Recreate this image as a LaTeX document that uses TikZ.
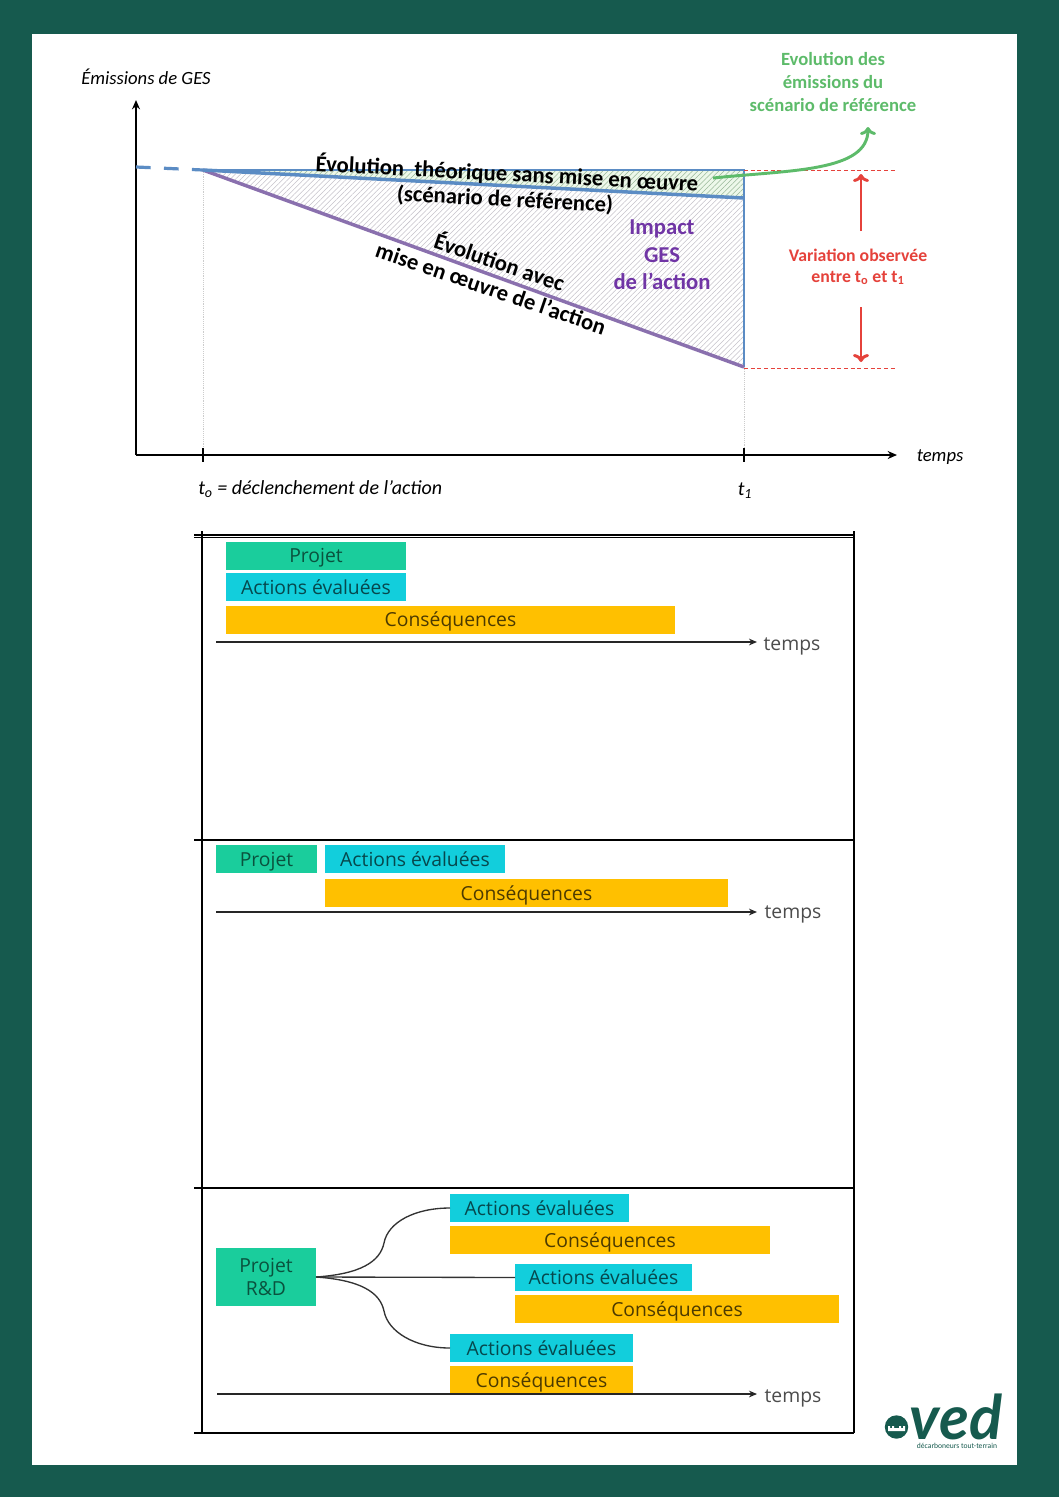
\documentclass[tikz,border=0pt]{standalone}
\usepackage{fontspec}
\setmainfont{Carlito}
\newfontfamily\boxfont{Open Sans}
\newfontfamily\logofont{Lato}
\usetikzlibrary{patterns.meta,arrows.meta}
\definecolor{framegreen}{HTML}{165A4E}
\definecolor{lineblue}{HTML}{5B8CC4}
\definecolor{linepurple}{HTML}{8A70AE}
\definecolor{textpurple}{HTML}{7035A5}
\definecolor{arrowgreen}{HTML}{5DBB6A}
\definecolor{arrowred}{HTML}{E5423B}
\definecolor{boxteal}{HTML}{1ACD9C}
\definecolor{boxcyan}{HTML}{12CEDC}
\definecolor{boxorange}{HTML}{FFC000}
\tikzset{
  databox/.style={inner sep=0pt,outer sep=0pt,minimum height=21,text height=13.5pt,text depth=3pt,font=\boxfont\fontsize{14.5}{17}\selectfont},
  projetbox/.style={databox,fill=boxteal,text=boxteal!40!black},
  actionbox/.style={databox,fill=boxcyan,text=boxcyan!35!black},
  conseqbox/.style={databox,fill=boxorange,text=boxorange!30!black},
  timeline/.style={-{Stealth[length=6pt,width=5pt]},line width=1.3pt,black!85},
  timelabel/.style={font=\boxfont\fontsize{14.5}{17}\selectfont,text=black!70},
  curvetext/.style={font=\bfseries\fontsize{17}{20}\selectfont,align=center},
  tablerule/.style={line width=1.2pt,black},
  axisline/.style={-{Stealth[length=7pt,width=6pt]},line width=1.6pt},
  openarrow/.style={-{To[length=6pt,width=12pt]},line width=2.2pt}
}
\begin{document}
\begin{tikzpicture}[x=0.75pt,y=-0.75pt]
% Frame
\fill[framegreen] (0,0) rectangle (1059,1497);
\fill[white] (32,34) rectangle (1017,1465);
\useasboundingbox (0,0) rectangle (1059,1497);

% Curve: named points
\coordinate (orig) at (136,455);
\coordinate (start) at (203,170);
\coordinate (endtop) at (744,170);
\coordinate (endref) at (744,198);
\coordinate (endact) at (744,367);
\coordinate (endactb) at (744,368);

% Hatched areas
\fill[yellow!12!green!8] (start) -- (endtop) -- (endref) -- cycle;
\fill[pattern={Lines[angle=45,distance=2.8pt,line width=0.4pt]},pattern color=green!30!black!40] (start) -- (endtop) -- (endref) -- cycle;
\fill[pattern={Lines[angle=45,distance=2.8pt,line width=0.4pt]},pattern color=linepurple!45!black!30] (start) -- (endref) -- (endact) -- cycle;

% Dotted guides
\draw[black!20,densely dotted] (start) -- (203,448);
\draw[black!20,densely dotted] (endact) -- (744,448);

% Axes
\draw[axisline] (orig) -- (136,100);
\draw[axisline] (orig) -- (897,455);
\draw[line width=1.2pt] (203,448) -- (203,462);
\draw[line width=1.2pt] (744,448) -- (744,462);

% Curves
\draw[lineblue,line width=2.4pt,dash pattern=on 11pt off 10pt] (136,167) -- (start);
\draw[lineblue,line width=0.8pt] (start) -- (endtop) -- (endact);
\draw[linepurple,line width=2.6pt] (start) -- (endact);
\draw[lineblue,line width=2.6pt] (start) -- (endref);

% Red markers
\draw[arrowred,densely dashed,line width=0.6pt] (endtop) -- (897,170);
\draw[arrowred,densely dashed,line width=0.6pt] (endactb) -- (897,368);
\draw[arrowred,openarrow] (861,231) -- (861,174);
\draw[arrowred,openarrow] (861,307) -- (861,362);

% Green arrow
\coordinate (refstart) at (713,178);
\coordinate (refend) at (868,127);
\draw[arrowgreen,openarrow] (refstart) .. controls (790,170) and (868,172) .. (refend);

% Labels
\node[font=\itshape\fontsize{14}{16}\selectfont] (ylabel) at (146,77) {Émissions de GES};
\node[font=\itshape\fontsize{14}{16}\selectfont] (xlabel) at (940,457) {temps};
\node[font=\itshape\fontsize{15}{17}\selectfont,anchor=west,inner sep=0pt] (tzero) at (198,489.5) {t\textsubscript{o} = déclenchement de l’action};
\node[font=\itshape\fontsize{15}{17}\selectfont] (tone) at (745,491) {t\textsubscript{1}};
\node[curvetext,rotate=-3] (reflabel) at (507,173.5) {Évolution\ \ théorique sans mise en œuvre};
\node[curvetext,rotate=-3] (refsub) at (505,200) {(scénario de référence)};
\node[curvetext,rotate=-19] (actlabel) at (500,261) {Évolution avec};
\node[curvetext,rotate=-19] (actsub) at (491,288) {mise en œuvre de l’action};
\node[font=\bfseries\fontsize{17}{20.6}\selectfont,text=textpurple,align=center] (impact) at (662,255) {Impact\\GES\\de l’action};
\node[font=\bfseries\fontsize{14}{17}\selectfont,text=arrowgreen,align=center] (reftitle) at (833,82) {Evolution des\\émissions du\\scénario de référence};
\node[font=\bfseries\fontsize{13.3}{15.5}\selectfont,text=arrowred,align=center] (varlabel) at (858,267) {Variation observée\\entre t\textsubscript{o} et t\textsubscript{1}};

% Table
\draw[tablerule] (194,535) -- (854,535);
\draw[tablerule] (194,537.5) -- (854,537.5);
\draw[tablerule] (194,840) -- (854,840);
\draw[tablerule] (194,1188) -- (854,1188);
\draw[tablerule] (194,1433) -- (854,1433);
\draw[tablerule] (202,531) -- (202,1433);
\draw[tablerule] (854,531) -- (854,1433);

% Row 1
\node[projetbox,minimum width=135] (projeta) at (316,555.5) {Projet};
\node[actionbox,minimum width=135] (actiona) at (316,587) {Actions évaluées};
\node[conseqbox,minimum width=336.75] (conseqa) at (450.5,619.5) {Conséquences};
\coordinate (timeastart) at (216,642);
\node[timelabel] (timea) at (792,646) {temps};
\draw[timeline] (timeastart) -- (757,642);

% Row 2
\node[projetbox,minimum width=75.75] (projetb) at (266.5,859) {Projet};
\node[actionbox,minimum width=135] (actionb) at (415,859) {Actions évaluées};
\node[conseqbox,minimum width=302.25] (conseqb) at (526.5,893) {Conséquences};
\coordinate (timebstart) at (216,912);
\node[timelabel] (timeb) at (793,914) {temps};
\draw[timeline,line width=1.8pt] (timebstart) -- (757,912);

% Row 3
\node[projetbox,minimum width=75,minimum height=43.5,align=center,text height=,text depth=] (projetc) at (266,1277) {Projet\\R\&D};
\node[actionbox,minimum width=134.25] (actionc) at (539.5,1208) {Actions évaluées};
\node[conseqbox,minimum width=240] (conseqc) at (610,1240) {Conséquences};
\node[actionbox,minimum width=132.75,minimum height=20.25] (actiond) at (603.5,1277.5) {Actions évaluées};
\node[conseqbox,minimum width=243] (conseqd) at (677,1309) {Conséquences};
\node[actionbox,minimum width=137.25] (actione) at (541.5,1348) {Actions évaluées};
\node[conseqbox,minimum width=137.25] (conseqe) at (541.5,1380) {Conséquences};
\draw[black!80,line width=1pt] (projetc.east) .. controls (360,1274) and (380,1262) .. (384,1243) .. controls (388,1222) and (415,1208) .. (actionc.west);
\draw[black!80,line width=1pt] (projetc.east) -- (actiond.west);
\draw[black!80,line width=1pt] (projetc.east) .. controls (360,1280) and (380,1292) .. (384,1311) .. controls (388,1332) and (415,1348) .. (actione.west);
\coordinate (timecstart) at (217,1394);
\node[timelabel] (timec) at (793,1398) {temps};
\draw[timeline] (timecstart) -- (757,1394);

% Logo
\fill[framegreen] (896.5,1427) circle (11.7);
\fill[white] (888,1431) -- (888,1426) -- (890,1426) -- (890,1428) -- (892,1428) -- (892,1426) -- (894,1426) -- (894,1428) -- (899,1428) -- (899,1426) -- (901,1426) -- (901,1428) -- (903,1428) -- (903,1426) -- (905,1426) -- (905,1431) -- cycle;
\node[font=\logofont\bfseries\itshape\fontsize{46}{46}\selectfont,text=framegreen,inner sep=0pt] (logo) at (956,1417) {ved};
\node[font=\fontsize{5.7}{6}\selectfont,text=framegreen] (slogan) at (957,1446) {décarboneurs tout-terrain};
\end{tikzpicture}
\end{document}
